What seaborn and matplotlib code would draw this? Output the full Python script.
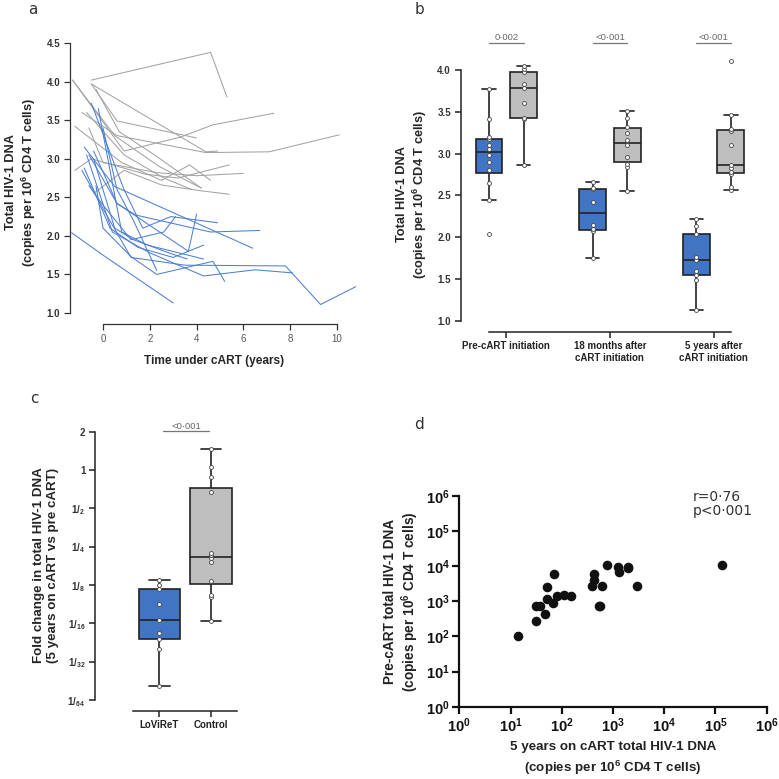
import numpy as np
import pandas as pd
import matplotlib.pyplot as plt
import seaborn as sns

# ---------------- data ----------------
# a: total HIV-1 DNA (log10 copies) per patient over time under cART
grey_times = [
    [-0.5, 4.6, 5.3],
    [-0.5, 0.6, 4.0],
    [-0.5, 4.4, 4.9],
    [-1.3, 0.5, 2.4, 4.2],
    [-1.3, 0.9, 3.3, 4.7, 7.3],
    [-0.9, 0.6, 4.4, 7.1, 10.1],
    [-1.2, 0.8, 2.5, 3.7, 4.6],
    [-1.2, -0.5, 1.8, 3.2, 5.4],
    [-0.6, 0.0, 2.3, 4.0, 6.0],
    [-0.4, 0.9, 2.5, 4.3, 5.4],
    [-0.7, 0.9, 2.6, 3.8],
    [-0.3, 0.7, 2.2, 3.6, 4.2],
]
grey_values = [
    [4.02, 4.38, 3.80],
    [3.97, 3.49, 3.27],
    [3.97, 3.09, 3.10],
    [4.02, 3.30, 2.90, 2.62],
    [4.02, 3.10, 3.28, 3.44, 3.59],
    [3.60, 3.30, 3.08, 3.09, 3.31],
    [3.42, 2.95, 2.72, 2.92, 2.72],
    [2.85, 3.00, 2.80, 2.75, 2.92],
    [3.40, 2.95, 2.82, 2.78, 2.81],
    [2.55, 2.85, 2.66, 2.58, 2.54],
    [3.60, 3.05, 2.75, 2.60],
    [3.90, 3.35, 3.05, 2.75, 2.62],
]
blue_times = [
    [-1.34, 0.0, 3.0],
    [-0.3, 0.0, 1.2, 2.3, 4.7, 5.2],
    [-0.9, 0.1, 1.2, 3.5, 7.8, 9.3, 10.8],
    [-0.7, 0.4, 2.0, 4.3, 6.5, 8.1],
    [-0.4, 0.6, 1.4, 4.6, 6.7],
    [-0.8, 0.5, 6.4],
    [-0.5, 0.9, 1.7, 2.9, 4.9],
    [-0.6, 0.6, 3.65, 4.0],
    [-0.8, 0.3, 1.5, 3.0, 4.3],
    [-0.2, 0.8, 1.9, 4.3],
    [-0.4, 0.5, 1.3, 2.9, 3.6],
    [-0.6, 0.0, 1.2, 2.6, 3.1],
    [0.0, 0.6, 1.3, 2.3],
]
blue_values = [
    [2.04, 1.75, 1.13],
    [2.65, 2.10, 1.73, 1.50, 1.67, 1.41],
    [2.85, 2.30, 1.72, 1.62, 1.61, 1.11, 1.34],
    [3.05, 2.05, 1.78, 1.48, 1.56, 1.52],
    [3.10, 2.42, 2.27, 2.05, 2.07],
    [3.15, 2.64, 1.84],
    [3.72, 2.60, 2.10, 2.25, 2.17],
    [3.05, 2.42, 1.80, 2.28],
    [2.88, 2.10, 1.85, 1.72, 1.88],
    [3.65, 2.05, 1.88, 1.70],
    [3.00, 2.10, 1.95, 1.77, 1.70],
    [2.65, 2.40, 1.95, 2.05, 2.25],
    [3.40, 2.60, 2.20, 1.55],
]

# b: total HIV-1 DNA by time point and cohort
b_pre_lov = [2.04, 2.45, 2.65, 2.81, 2.90, 2.98, 3.05, 3.10, 3.17, 3.20, 3.41, 3.77]
b_pre_ctl = [2.865, 3.42, 3.43, 3.61, 3.78, 3.83, 3.97, 4.01, 4.05]
b_18m_lov = [1.757, 2.07, 2.094, 2.15, 2.42, 2.575, 2.59, 2.665]
b_18m_ctl = [2.554, 2.84, 2.88, 2.96, 3.10, 3.16, 3.25, 3.32, 3.43, 3.51]
b_5y_lov = [1.131, 1.49, 1.546, 1.60, 1.729, 1.77, 2.036, 2.14, 2.223]
b_5y_ctl = [2.566, 2.60, 2.76, 2.785, 2.83, 2.86, 3.10, 3.27, 3.29, 3.46, 4.11]
b_time_labels = ["Pre-cART initiation", "18 months after\ncART initiation",
                 "5 years after\ncART initiation"]
b_pvalues = ["0\u00b7002", "<0\u00b7001", "<0\u00b7001"]

# c: fold change (5 years on cART vs pre cART)
c_lov = [0.02025, 0.03956, 0.04681, 0.05219, 0.06597, 0.08839, 0.1163, 0.125, 0.1377]
c_ctl = [0.06561, 0.1001, 0.1044, 0.1348, 0.1908, 0.2031, 0.2146, 0.2242,
         0.6713, 0.8784, 1.0622, 1.4529]
c_groups = ["LoViReT", "Control"]
c_pvalue = "<0\u00b7001"

# d: 5 years on cART vs pre-cART total HIV-1 DNA (copies per 10^6 CD4 T cells)
d_5y = [14, 31, 37, 32, 48, 52, 52, 66, 70, 79, 112, 151, 394, 420, 431,
        533, 566, 601, 764, 1271, 1330, 1932, 1995, 2897, 134000]
d_pre = [105, 753, 753, 275, 446, 2618, 1167, 877, 5875, 1419, 1514, 1419, 2673,
         4055, 5875, 736, 736, 2673, 10840, 9705, 6699, 8710, 9705, 2673, 10840]
d_stats = "r=0\u00b776\np<0\u00b7001"

# ---------------- style ----------------
sns.set_theme(style="ticks")
plt.rcParams["font.family"] = ["Liberation Sans", "DejaVu Sans"]
# math parts (superscripts / subscripts) follow the surrounding text font and weight
plt.rcParams["mathtext.default"] = "regular"

BLUE_LINE = "#4d7fd1"
GREY_LINE = "#a3a3a3"
BLUE_BOX = "#4174c2"
GREY_BOX = "#bebebe"
DARK = "#222222"
unit_lbl = r"(copies per 10$^{6}$ CD4 T cells)"

fig = plt.figure(figsize=(7.79, 7.79), dpi=100)
W = 779


def px_axes(left, top, right, bottom):
    return fig.add_axes([left / W, 1 - bottom / W, (right - left) / W, (bottom - top) / W])


def r_style(ax, xb, yb, lw=0.9, color="#333333"):
    for s in ["top", "right"]:
        ax.spines[s].set_visible(False)
    ax.spines["left"].set_bounds(*yb)
    ax.spines["bottom"].set_bounds(*xb)
    for s in ["left", "bottom"]:
        ax.spines[s].set_linewidth(lw)
        ax.spines[s].set_color(color)
    ax.tick_params(length=4, width=lw, color=color, pad=3)
    ax.grid(False)


def label_style(labels, size, weight="bold", color="#333333"):
    for lab in labels:
        lab.set_fontsize(size)
        lab.set_fontweight(weight)
        lab.set_color(color)


# ---------------- panel a ----------------
rows = []
for grp, times, vals in [("Control", grey_times, grey_values), ("LoViReT", blue_times, blue_values)]:
    for i, (ts, vs) in enumerate(zip(times, vals)):
        for t, v in zip(ts, vs):
            rows.append({"patient": f"{grp}{i}", "group": grp, "time": t, "dna": v})
df_a = pd.DataFrame(rows)

ax_a = px_axes(70, 40, 358, 324)
sns.lineplot(data=df_a, x="time", y="dna", hue="group", units="patient", estimator=None,
             hue_order=["Control", "LoViReT"], palette={"Control": GREY_LINE, "LoViReT": BLUE_LINE},
             sort=False, linewidth=0.75, legend=False, ax=ax_a)
ax_a.set_xlim(-1.41, 10.9)
ax_a.set_ylim(0.857, 4.54)
a_yt = np.arange(1.0, 4.51, 0.5)
ax_a.set_yticks(a_yt, labels=[f"{v:.1f}" for v in a_yt])
ax_a.set_xticks(range(0, 11, 2), labels=[str(v) for v in range(0, 11, 2)])
r_style(ax_a, (0, 10), (1.0, 4.5))
ax_a.set_xlabel("Time under cART (years)", fontsize=8.6, fontweight="bold", labelpad=8)
ax_a.set_ylabel("Total HIV-1 DNA\n" + unit_lbl, fontsize=9.2, fontweight="bold", labelpad=6)

# ---------------- panel b ----------------
slots = ["pre_L", "pre_C", " ", "m18_L", "m18_C", "  ", "y5_L", "y5_C"]
b_sets = [("pre_L", "LoViReT", b_pre_lov), ("pre_C", "Control", b_pre_ctl),
          ("m18_L", "LoViReT", b_18m_lov), ("m18_C", "Control", b_18m_ctl),
          ("y5_L", "LoViReT", b_5y_lov), ("y5_C", "Control", b_5y_ctl)]
df_b = pd.DataFrame([{"slot": s, "group": g, "dna": v} for s, g, vals in b_sets for v in vals])

ax_b = px_axes(460.7, 57, 745, 331.7)
box_kw = dict(linecolor=DARK, linewidth=1.2, saturation=1, showfliers=False, legend=False)
sns.boxplot(data=df_b, x="slot", y="dna", hue="group", order=slots, dodge=False, width=0.78,
            palette={"LoViReT": BLUE_BOX, "Control": GREY_BOX}, ax=ax_b, **box_kw)
sns.stripplot(data=df_b, x="slot", y="dna", order=slots, jitter=False, color="white",
              edgecolor="#444444", linewidth=0.6, size=2.8, ax=ax_b)
ax_b.set_xlim(-0.82, 7.41)
ax_b.set_ylim(0.872, 4.155)
b_yt = np.arange(1.0, 4.01, 0.5)
ax_b.set_yticks(b_yt, labels=[f"{v:.1f}" for v in b_yt])
ax_b.set_xticks([0.5, 3.5, 6.5], labels=b_time_labels)
r_style(ax_b, (0, 7), (1.0, 4.0), lw=1.1, color="#222222")
ax_b.set_xlabel("")
ax_b.set_ylabel("Total HIV-1 DNA\n" + unit_lbl, fontsize=9.2, fontweight="bold", labelpad=6)
for k, p in enumerate(b_pvalues):
    ax_b.plot([3 * k, 3 * k + 1], [4.32, 4.32], color="#777777", lw=0.9, clip_on=False)
    ax_b.text(3 * k + 0.5, 4.335, p, ha="center", va="bottom", fontsize=6.8, color="#666666",
              clip_on=False)

# ---------------- panel c ----------------
df_c = pd.DataFrame([{"group": g, "fold": v} for g, vals in zip(c_groups, [c_lov, c_ctl]) for v in vals])
ax_c = px_axes(95, 420, 245, 710.7)
sns.boxplot(data=df_c, x="group", y="fold", hue="group", order=c_groups, width=0.8, log_scale=2,
            palette={"LoViReT": BLUE_BOX, "Control": GREY_BOX}, ax=ax_c, **box_kw)
sns.stripplot(data=df_c, x="group", y="fold", order=c_groups, jitter=False, color="white",
              edgecolor="#444444", linewidth=0.6, size=2.8, ax=ax_c)
ax_c.set_xlim(-1.244, 1.658)
ax_c.set_ylim(2 ** -6.28, 2 ** 1.305)
c_exp = list(range(-6, 2))
c_lbls = [r"1/$_{%d}$" % (2 ** -e) if e < 0 else str(2 ** e) for e in c_exp]
ax_c.set_yticks([2.0 ** e for e in c_exp], labels=c_lbls)
ax_c.yaxis.set_minor_locator(plt.NullLocator())
ax_c.set_xticks([0, 1], labels=c_groups)
r_style(ax_c, (-0.5, 1.5), (2.0 ** -6, 2.0), lw=1.1, color="#222222")
ax_c.set_xlabel("")
ax_c.set_ylabel("Fold change in total HIV-1 DNA\n(5 years on cART vs pre cART)",
                fontsize=9.6, fontweight="bold", labelpad=6)
ax_c.plot([0.08, 0.97], [2 ** 1.01, 2 ** 1.01], color="#777777", lw=0.9, clip_on=False)
ax_c.text(0.525, 2 ** 1.03, c_pvalue, ha="center", va="bottom", fontsize=6.8, color="#666666",
          clip_on=False)

# ---------------- panel d ----------------
ax_d = px_axes(459.3, 496, 766.7, 706.7)
ax_d.set_xscale("log")
ax_d.set_yscale("log")
sns.scatterplot(x=d_5y, y=d_pre, color="#111111", s=48, linewidth=0, ax=ax_d)
ax_d.set_xlim(1, 1e6)
ax_d.set_ylim(1, 1e6)
d_ticks = [10.0 ** k for k in range(7)]
d_lbls = [r"10$^{%d}$" % k for k in range(7)]
ax_d.set_xticks(d_ticks, labels=d_lbls)
ax_d.set_yticks(d_ticks, labels=d_lbls)
ax_d.xaxis.set_minor_locator(plt.NullLocator())
ax_d.yaxis.set_minor_locator(plt.NullLocator())
for s in ["top", "right"]:
    ax_d.spines[s].set_visible(False)
for s in ["left", "bottom"]:
    ax_d.spines[s].set_linewidth(1.6)
    ax_d.spines[s].set_color("#111111")
ax_d.tick_params(length=5, width=1.6, color="#111111", pad=2)
ax_d.set_xlabel("5 years on cART total HIV-1 DNA\n" + unit_lbl, fontsize=9.6, fontweight="bold",
                labelpad=4, linespacing=1.45, color="#222")
ax_d.set_ylabel("Pre-cART total HIV-1 DNA\n" + unit_lbl, fontsize=9.8, fontweight="bold",
                labelpad=3, color="#222")
ax_d.text(0.76, 1.03, d_stats, transform=ax_d.transAxes, ha="left", va="top", fontsize=10,
          color="#333333", family="DejaVu Sans", linespacing=1.0)

# ---------------- tick label fonts (set last so nothing resets them) ----------------
label_style(ax_a.get_yticklabels(), 7)
label_style(ax_a.get_xticklabels(), 7, weight="normal", color="#555555")
label_style(ax_b.get_yticklabels(), 7)
label_style(ax_b.get_xticklabels(), 7, color="#222222")
label_style(ax_c.get_yticklabels(), 7)
label_style(ax_c.get_xticklabels(), 7, color="#222222")
label_style(ax_d.get_xticklabels() + ax_d.get_yticklabels(), 10.5, color="#111111")

# ---------------- panel letters ----------------
for lbl, x, y in [("a", 33, 9), ("b", 420, 9), ("c", 34, 398), ("d", 419, 424)]:
    fig.text(x / W, 1 - y / W, lbl, ha="center", va="center", fontsize=11, color="#333333",
             family="DejaVu Sans")

fig.savefig("out.png", dpi=100)
